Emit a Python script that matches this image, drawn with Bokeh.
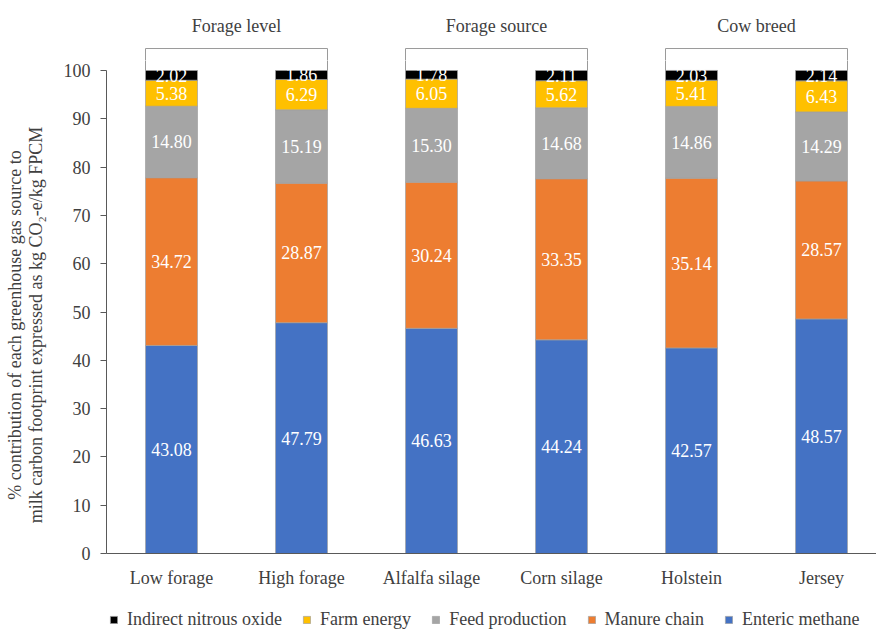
from bokeh.plotting import figure
from bokeh.models import Range1d, FixedTicker, Legend, LegendItem, ColumnDataSource
from bokeh.layouts import column
from bokeh.core.properties import value
from bokeh.embed import file_html
from bokeh.resources import INLINE

# ---------------- data ----------------
categories = ["Low forage", "High forage", "Alfalfa silage", "Corn silage", "Holstein", "Jersey"]
enteric_methane = [43.08, 47.79, 46.63, 44.24, 42.57, 48.57]
manure_chain = [34.72, 28.87, 30.24, 33.35, 35.14, 28.57]
feed_production = [14.80, 15.19, 15.30, 14.68, 14.86, 14.29]
farm_energy = [5.38, 6.29, 6.05, 5.62, 5.41, 6.43]
indirect_nitrous_oxide = [2.02, 1.86, 1.78, 2.11, 2.03, 2.14]
series_names = ["Enteric methane", "Manure chain", "Feed production", "Farm energy", "Indirect nitrous oxide"]
group_names = ["Forage level", "Forage source", "Cow breed"]
group_members = [[0, 1], [2, 3], [4, 5]]
y_ticks = list(range(0, 101, 10))
y_label_lines = ["% contribution of each greenhouse gas source to",
                 "milk carbon footprint expressed as kg CO\u2082-e/kg FPCM"]

# ---------------- style ----------------
FONT = "Liberation Serif"
TXT = "#404040"
colors = ["#4472C4", "#ED7D31", "#A5A5A5", "#FFC000", "#000000"]
W = 876
LEFT = 106
CAT_PX = 130.0
PX_PER_Y = 4.83
TOP_H = 60
MAIN_H = 530
BOTTOM = 37
LEG_H = 40
BAR_W = 0.4
BRACKET_Y = 104.55
TITLE_Y = 109.3
LABEL_PAD = "\u2003\u2003"   # shifts the centred axis title down toward the 0-100 span

y_main_end = (MAIN_H - BOTTOM) / PX_PER_Y
x_range = Range1d(-0.5, -0.5 + (W - LEFT) / CAT_PX)

series_values = [enteric_methane, manure_chain, feed_production, farm_energy, indirect_nitrous_oxide]
keys = ["s%d" % i for i in range(len(series_names))]
data = {"x": list(range(len(categories)))}
for k, vals in zip(keys, series_values):
    data[k] = vals
source = ColumnDataSource(data)

# ---------------- main figure ----------------
p = figure(width=W, height=MAIN_H, x_range=x_range, y_range=Range1d(0, y_main_end),
           output_backend="svg", toolbar_location=None,
           min_border_left=LEFT, min_border_right=0, min_border_top=0, min_border_bottom=BOTTOM)
p.outline_line_color = None
p.xgrid.grid_line_color = None
p.ygrid.grid_line_color = None

p.vbar_stack(keys, x="x", width=BAR_W, source=source, color=colors,
             line_color="#a0a0a0", line_width=0.7)

# segment labels
lx, ly, lt = [], [], []
for i in range(len(categories)):
    bottom = 0.0
    for vals in series_values:
        v = vals[i]
        lx.append(i)
        ly.append(bottom + v / 2.0)
        lt.append("%.2f" % v)
        bottom += v
p.text(x=lx, y=ly, text=lt, text_font=value(FONT), text_font_size="18px",
       text_color="white", text_align="center", text_baseline="middle")

# bracket pieces reaching the bars (clipped by frame)
for members in group_members:
    x0 = min(members) - BAR_W / 2
    x1 = max(members) + BAR_W / 2
    p.segment(x0=[x0, x1], y0=[100, 100], x1=[x0, x1], y1=[BRACKET_Y, BRACKET_Y],
              line_color="#9a9a9a", line_width=1)

# axes
xa = p.xaxis[0]
xa.ticker = FixedTicker(ticks=list(range(len(categories))))
xa.major_label_overrides = {i: c for i, c in enumerate(categories)}
xa.major_tick_out = 0
xa.major_tick_in = 0
xa.minor_tick_line_color = None
xa.axis_line_color = "#595959"
xa.major_label_text_font = FONT
xa.major_label_text_font_size = "18px"
xa.major_label_text_color = TXT
xa.major_label_standoff = 14

ya = p.yaxis[0]
ya.ticker = FixedTicker(ticks=y_ticks)
ya.bounds = (0, 100)
ya.major_tick_out = 6
ya.major_tick_in = 0
ya.minor_tick_line_color = None
ya.axis_line_color = "#595959"
ya.major_tick_line_color = "#595959"
ya.major_label_text_font = FONT
ya.major_label_text_font_size = "18px"
ya.major_label_text_color = TXT
ya.major_label_standoff = 10
ya.axis_label = "\n".join(line + LABEL_PAD for line in y_label_lines)
ya.axis_label_text_font = FONT
ya.axis_label_text_font_size = "18px"
ya.axis_label_text_font_style = "normal"
ya.axis_label_text_color = TXT
ya.axis_label_text_line_height = 1.05
ya.axis_label_standoff = 15

# ---------------- top figure (group brackets & titles) ----------------
t = figure(width=W, height=TOP_H, x_range=x_range,
           y_range=Range1d(y_main_end, y_main_end + TOP_H / PX_PER_Y),
           output_backend="svg", toolbar_location=None,
           x_axis_location=None, y_axis_location=None,
           min_border_left=LEFT, min_border_right=0, min_border_top=0, min_border_bottom=0)
t.outline_line_color = None
t.xgrid.grid_line_color = None
t.ygrid.grid_line_color = None

gx, gy, gt = [], [], []
for name, members in zip(group_names, group_members):
    x0 = min(members) - BAR_W / 2
    x1 = max(members) + BAR_W / 2
    t.multi_line(xs=[[x0, x0, x1, x1]], ys=[[100, BRACKET_Y, BRACKET_Y, 100]],
                 line_color="#9a9a9a", line_width=1)
    gx.append(sum(members) / len(members))
    gy.append(TITLE_Y)
    gt.append(name)
t.text(x=gx, y=gy, text=gt, text_font=value(FONT), text_font_size="18px",
       text_color=TXT, text_align="center", text_baseline="middle")

# ---------------- legend strip ----------------
lg = figure(width=W, height=LEG_H, x_range=x_range, y_range=Range1d(-1000, -999),
            output_backend="svg", toolbar_location=None,
            x_axis_location=None, y_axis_location=None,
            min_border_left=LEFT, min_border_right=0, min_border_top=0, min_border_bottom=0)
lg.outline_line_color = None
lg.xgrid.grid_line_color = None
lg.ygrid.grid_line_color = None
items = []
for name, k, c in zip(series_names, keys, colors):
    r = lg.vbar(x="x", top=k, width=BAR_W, source=source, color=c,
                line_color="#a0a0a0", line_width=0.7, visible=False)
    items.append(LegendItem(label=name, renderers=[r]))
legend = Legend(items=items[::-1], orientation="horizontal", location=(3, 0),
                label_text_font=FONT, label_text_font_size="18px", label_text_color=TXT,
                glyph_width=9, glyph_height=9, label_standoff=9, spacing=20,
                padding=0, margin=0, border_line_color=None, background_fill_alpha=0,
                inactive_fill_alpha=0)
lg.add_layout(legend)

layout = column(t, p, lg, spacing=0)
open("out.html", "w").write(file_html(layout, INLINE))
